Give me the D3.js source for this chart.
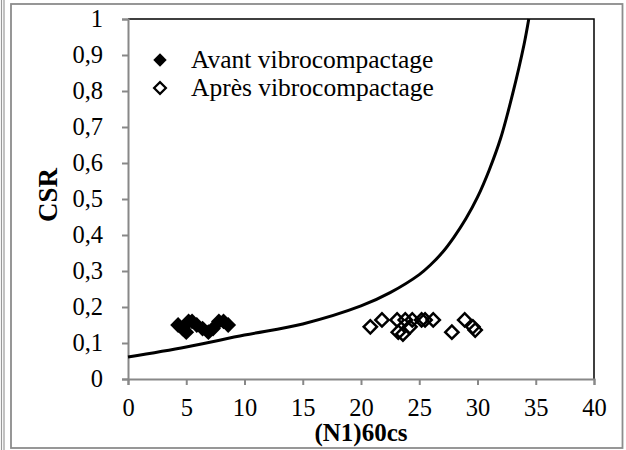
<!DOCTYPE html>
<html>
<head>
<meta charset="utf-8">
<script src="https://cdn.jsdelivr.net/npm/d3@7"></script>
<style>
  body { margin: 0; background: #fff; }
  svg text { font-family: "Liberation Serif", "Times New Roman", serif; fill: #000; }
</style>
</head>
<body>
<svg id="chart"></svg>
<script>
// data
const avantN   = [4.3, 4.7, 5.0, 5.2, 5.5, 5.9, 6.4, 6.9, 7.3, 7.8, 8.2, 8.6];
const avantCSR = [0.15, 0.14, 0.13, 0.16, 0.16, 0.15, 0.14, 0.13, 0.14, 0.16, 0.16, 0.15];

const apresN   = [20.8, 21.8, 23.1, 23.2, 23.6, 23.8, 24.2, 24.4, 25.2, 25.5, 26.2, 27.8, 28.9, 29.6, 29.8];
const apresCSR = [0.145, 0.164, 0.164, 0.13, 0.125, 0.164, 0.145, 0.164, 0.164, 0.164, 0.164, 0.13, 0.164, 0.145, 0.136];

const curveN   = [0, 5, 10, 15, 20, 22.5, 25, 26, 27, 28, 29, 30, 31, 32, 33, 34, 34.4];
const curveCSR = [0.061, 0.089, 0.122, 0.153, 0.203, 0.24, 0.29, 0.318, 0.352, 0.395, 0.445, 0.505, 0.58, 0.67, 0.79, 0.93, 1.0];

const xTicks = [0, 5, 10, 15, 20, 25, 30, 35, 40];
const yTicks = [0, 0.1, 0.2, 0.3, 0.4, 0.5, 0.6, 0.7, 0.8, 0.9, 1];
const legendLabels = ["Avant vibrocompactage", "Après vibrocompactage"];

const width = 626, height = 450;
const plot = { left: 128, right: 594, top: 19, bottom: 379 };

const svg = d3.select("#chart")
    .attr("width", width)
    .attr("height", height);

// outer frames
svg.append("line").attr("x1", 1.5).attr("x2", 1.5).attr("y1", 0).attr("y2", height)
    .attr("stroke", "#999").attr("stroke-width", 1.2);
svg.append("line").attr("x1", 4).attr("x2", 4).attr("y1", 0).attr("y2", height)
    .attr("stroke", "#999").attr("stroke-width", 1.2);
svg.append("rect")
    .attr("x", 11).attr("y", 4).attr("width", 611.5).attr("height", 444)
    .attr("fill", "#fff").attr("stroke", "#8c8c8c").attr("stroke-width", 1.8);

const x = d3.scaleLinear().domain([0, 40]).range([plot.left, plot.right]);
const y = d3.scaleLinear().domain([0, 1]).range([plot.bottom, plot.top]);

const fmt = d => d3.format("~g")(d).replace(".", ",");

// plot frame top/right
svg.append("path")
    .attr("d", `M${plot.left},${plot.top}H${plot.right}V${plot.bottom}`)
    .attr("fill", "none").attr("stroke", "#000").attr("stroke-width", 1.5);

let xAxis = svg.append("g")
    .attr("transform", `translate(0,${plot.bottom})`)
    .call(d3.axisBottom(x).tickValues(xTicks).tickFormat(fmt).tickSize(6).tickPadding(14));
let yAxis = svg.append("g")
    .attr("transform", `translate(${plot.left},0)`)
    .call(d3.axisLeft(y).tickValues(yTicks).tickFormat(fmt).tickSize(6).tickPadding(19));

[xAxis, yAxis].forEach(a => {
    a.select(".domain").attr("stroke", "#888").attr("stroke-width", 2);
    a.selectAll(".tick line").attr("stroke", "#888").attr("stroke-width", 2);
    a.selectAll(".tick text").attr("font-size", 24.5);
});

// threshold curve
const line = d3.line()
    .x((d, i) => x(curveN[i]))
    .y((d, i) => y(curveCSR[i]))
    .curve(d3.curveCatmullRom.alpha(0.5));
svg.append("path")
    .datum(curveN)
    .attr("d", line)
    .attr("fill", "none")
    .attr("stroke", "#000")
    .attr("stroke-width", 3);

const filledSym = d3.symbol(d3.symbolSquare, 125)();
const openSym = d3.symbol(d3.symbolSquare, 88)();

svg.append("g").selectAll("path")
    .data(avantN)
    .join("path")
        .attr("d", filledSym)
        .attr("transform", (d, i) => `translate(${x(d)},${y(avantCSR[i])}) rotate(45)`)
        .attr("fill", "#000");

svg.append("g").selectAll("path")
    .data(apresN)
    .join("path")
        .attr("d", openSym)
        .attr("transform", (d, i) => `translate(${x(d)},${y(apresCSR[i])}) rotate(45)`)
        .attr("fill", "none")
        .attr("stroke", "#000")
        .attr("stroke-width", 2.5);

// legend
const legend = svg.append("g").attr("transform", "translate(160,60)");
legendLabels.forEach((label, i) => {
    let row = legend.append("g").attr("transform", `translate(0,${i * 28})`);
    row.append("path")
        .attr("d", i === 0 ? d3.symbol(d3.symbolSquare, 90)() : d3.symbol(d3.symbolSquare, 70)())
        .attr("transform", "rotate(45)")
        .attr("fill", i === 0 ? "#000" : "none")
        .attr("stroke", i === 0 ? "none" : "#000")
        .attr("stroke-width", 2.2);
    row.append("text")
        .attr("x", 31)
        .attr("y", 8)
        .attr("font-size", 25.5)
        .text(label);
});

// axis titles
svg.append("text")
    .attr("x", (plot.left + plot.right) / 2)
    .attr("y", 441)
    .attr("text-anchor", "middle")
    .attr("font-size", 25)
    .attr("font-weight", "bold")
    .text("(N1)60cs");

svg.append("text")
    .attr("transform", `translate(57,195) rotate(-90)`)
    .attr("text-anchor", "middle")
    .attr("font-size", 27)
    .attr("font-weight", "bold")
    .text("CSR");
</script>
</body>
</html>
